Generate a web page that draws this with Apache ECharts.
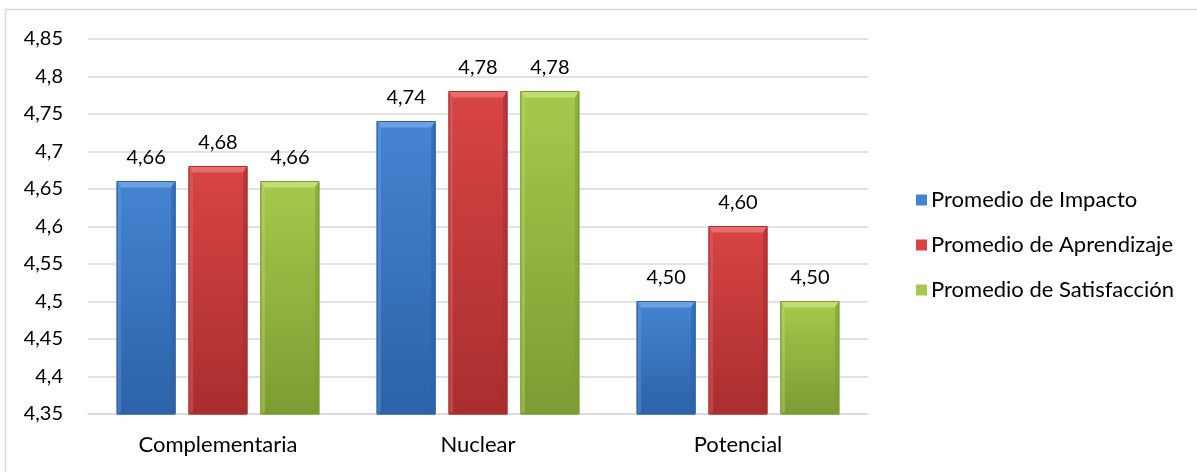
<!DOCTYPE html>
<html>
<head>
<meta charset="utf-8">
<script src="https://cdn.jsdelivr.net/npm/echarts@6/dist/echarts.min.js"></script>
<style>
  html, body { margin: 0; padding: 0; background: #fff; }
  #chart { width: 1197px; height: 472px; }
</style>
</head>
<body>
<div id="chart"></div>
<script>
// Categories and series values
const categories = ['Complementaria', 'Nuclear', 'Potencial'];
const seriesNames = ['Promedio de Impacto', 'Promedio de Aprendizaje', 'Promedio de Satisfacción'];
const impacto = [4.66, 4.74, 4.50];
const aprendizaje = [4.68, 4.78, 4.60];
const satisfaccion = [4.66, 4.78, 4.50];
const yMin = 4.35, yMax = 4.85, yStep = 0.05;

// Palette per series: [light (bevel), mid (body top), dark (body bottom / edges)]
const palettes = [
  ['#6ea2e2', '#4584d2', '#2c62a8'],
  ['#e87070', '#d84444', '#a92e2e'],
  ['#c2df78', '#a6c94c', '#7c9c32']
];

const FONT = 'Lato';
const NUM_SIZE = 20;
const TEXT_SIZE = 22;
const allValues = [impacto, aprendizaje, satisfaccion];

function fmt(v, fixed) {
  const s = fixed ? v.toFixed(2) : String(parseFloat(v.toFixed(2)));
  return s.replace('.', ',');
}

// Beveled bar drawn through the chart's own scales
function makeRenderItem(sIdx) {
  return function (params, api) {
    const cat = api.value(0);
    const val = api.value(1);
    const band = api.size([1, 0])[0];
    const barW = band * 0.223;
    const gap = barW * 0.24;
    const groupW = 3 * barW + 2 * gap;
    const topPt = api.coord([cat, val]);
    const basePt = api.coord([cat, yMin]);
    const x0 = topPt[0] - groupW / 2 + sIdx * (barW + gap);
    const x1 = x0 + barW;
    const y0 = topPt[1];
    const y1 = basePt[1];
    const b = 6, bs = 4;
    const p = palettes[sIdx];
    return {
      type: 'group',
      children: [
        {
          type: 'rect',
          shape: { x: x0, y: y0, width: barW, height: y1 - y0 },
          style: {
            fill: new echarts.graphic.LinearGradient(0, 0, 0, 1, [
              { offset: 0, color: p[1] },
              { offset: 1, color: p[2] }
            ]),
            stroke: p[2],
            lineWidth: 1
          }
        },
        { // top bevel
          type: 'polygon',
          shape: { points: [[x0, y0], [x1, y0], [x1 - bs, y0 + b], [x0 + bs, y0 + b]] },
          style: { fill: p[0], opacity: 0.95 }
        },
        { // left bevel
          type: 'polygon',
          shape: { points: [[x0, y0], [x0 + bs, y0 + b], [x0 + bs, y1 - 2], [x0, y1]] },
          style: { fill: p[0], opacity: 0.35 }
        },
        { // right bevel
          type: 'polygon',
          shape: { points: [[x1, y0], [x1 - bs, y0 + b], [x1 - bs, y1 - 2], [x1, y1]] },
          style: { fill: p[2], opacity: 0.55 }
        },
        {
          type: 'rect',
          shape: { x: x0, y: y0, width: barW, height: y1 - y0 },
          style: { fill: 'none', stroke: p[2], lineWidth: 1 }
        },
        {
          type: 'text',
          style: {
            text: fmt(val, true),
            x: (x0 + x1) / 2,
            y: y0 - 14,
            align: 'center',
            verticalAlign: 'bottom',
            fill: '#000',
            font: NUM_SIZE + 'px ' + FONT
          }
        }
      ]
    };
  };
}

const chart = echarts.init(document.getElementById('chart'), null, { renderer: 'canvas' });

chart.setOption({
  backgroundColor: '#fff',
  animation: false,
  textStyle: { fontFamily: FONT },
  graphic: [{
    type: 'rect',
    shape: { x: 5.5, y: 9.5, width: 1200, height: 480 },
    style: { fill: 'none', stroke: '#d9d9d9', lineWidth: 1.5 },
    silent: true
  }],
  grid: { left: 88, right: 329, top: 39, bottom: 58 },
  legend: {
    orient: 'vertical',
    left: 911,
    top: 184,
    itemWidth: 11,
    itemHeight: 11,
    itemGap: 23,
    icon: 'rect',
    textStyle: { fontFamily: FONT, fontSize: TEXT_SIZE, lineHeight: 22, color: '#000', padding: [0, 0, 0, -1] },
    data: seriesNames
  },
  xAxis: {
    type: 'category',
    data: categories,
    axisLine: { lineStyle: { color: '#d9d9d9', width: 1.5 } },
    axisTick: { show: false },
    axisLabel: { fontFamily: FONT, fontSize: TEXT_SIZE, color: '#000', margin: 20 }
  },
  yAxis: {
    type: 'value',
    min: yMin,
    max: yMax,
    interval: yStep,
    axisLine: { show: false },
    axisTick: { show: false },
    splitLine: { lineStyle: { color: '#d9d9d9', width: 1.5 } },
    axisLabel: {
      fontFamily: FONT, fontSize: NUM_SIZE, color: '#000', margin: 25,
      formatter: v => fmt(v, false)
    }
  },
  series: allValues.map((vals, i) => ({
    name: seriesNames[i],
    type: 'custom',
    itemStyle: { color: palettes[i][1] },
    encode: { x: 0, y: 1 },
    data: vals.map((v, c) => [c, v]),
    renderItem: makeRenderItem(i),
    z: 3
  }))
});
</script>
</body>
</html>
